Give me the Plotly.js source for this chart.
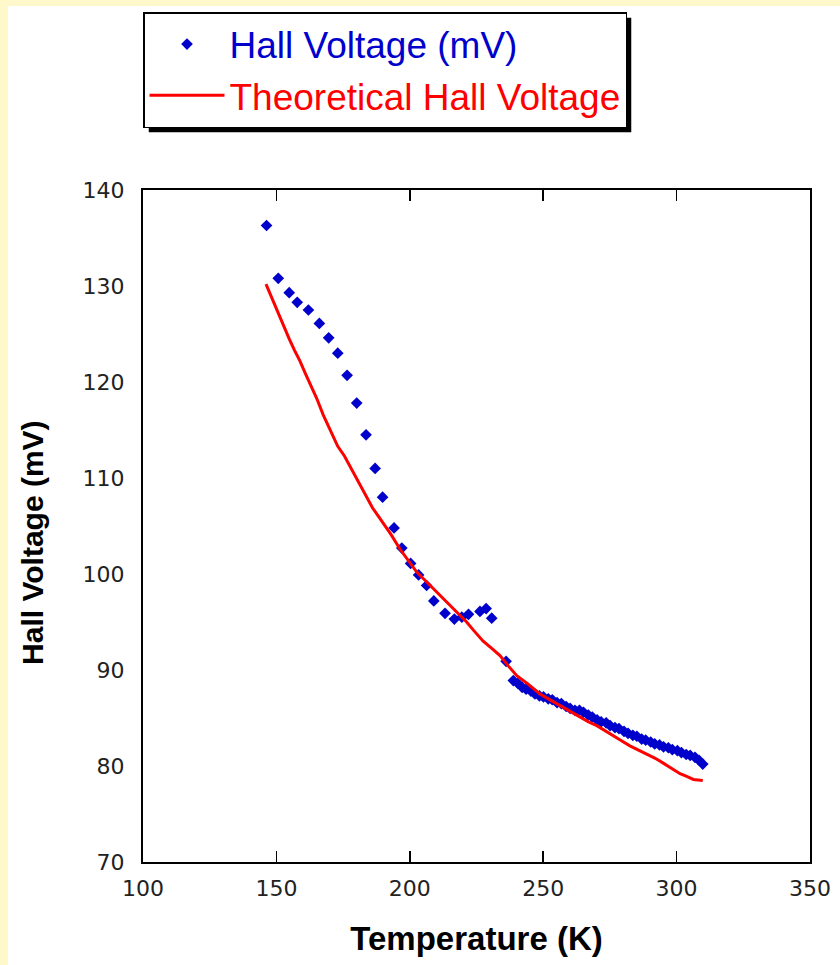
<!DOCTYPE html>
<html>
<head>
<meta charset="utf-8">
<script src="https://cdn.plot.ly/plotly-3.0.1.min.js"></script>
<style>
  html, body { margin: 0; padding: 0; background: #FFF8CB; width: 840px; height: 965px; overflow: hidden; }
  #chart { position: absolute; left: 8px; top: 6px; width: 832px; height: 959px; background: #fff; }
</style>
</head>
<body>
<div id="chart"></div>
<script>
// Measured Hall voltage (mV) vs temperature (K)
const hallT = [146.3, 150.7, 154.8, 157.8, 162.0, 166.1, 169.6, 173.0, 176.5, 180.1,
  183.6, 187.0, 189.8, 194.1, 197.0, 200.3, 203.3, 206.3, 209.0, 213.2,
  216.7, 219.5, 222.0, 226.3, 228.6, 230.7, 236.1, 238.8, 240.5, 242.1,
  243.6, 245.4, 246.9, 248.6, 250.1, 251.9, 253.4, 255.2, 256.8, 258.6,
  260.1, 261.9, 263.6, 265.1, 266.9, 268.4, 270.2, 271.7, 273.6, 275.1,
  276.9, 278.4, 280.3, 281.8, 283.6, 285.1, 286.9, 288.4, 290.3, 291.8,
  293.6, 295.1, 296.9, 298.4, 300.3, 301.8, 303.6, 305.1, 306.9, 308.4, 309.8];
const hallV = [136.3, 130.8, 129.3, 128.3, 127.5, 126.1, 124.6, 123.0, 120.7, 117.8,
  114.5, 111.0, 108.0, 104.8, 102.7, 101.1, 99.9, 98.8, 97.2, 95.9,
  95.3, 95.5, 95.8, 96.1, 96.4, 95.4, 90.9, 88.9, 88.6, 88.2,
  88.0, 87.8, 87.5, 87.3, 87.2, 87.0, 86.9, 86.6, 86.5, 86.2,
  86.0, 85.8, 85.8, 85.6, 85.3, 85.1, 84.8, 84.6, 84.5, 84.2,
  84.0, 83.9, 83.6, 83.4, 83.2, 83.1, 82.8, 82.7, 82.5, 82.3,
  82.2, 82.0, 81.9, 81.7, 81.6, 81.4, 81.2, 81.1, 80.9, 80.6, 80.2];

// Theoretical Hall voltage curve
const theoT = [146.1, 148.5, 150.5, 152.6, 154.8, 156.8, 158.8, 161.0, 163.0, 165.1,
  167.5, 170.1, 173.0, 175.5, 177.6, 180.0, 182.0, 183.8, 186.0, 188.0,
  190.1, 193.0, 196.3, 199.5, 202.6, 205.5, 208.8, 212.0, 215.1, 218.0,
  221.3, 224.0, 227.5, 230.5, 233.8, 237.0, 240.1, 244.0, 248.8, 251.3,
  254.5, 257.5, 260.5, 263.8, 267.0, 270.1, 273.2, 276.3, 279.5, 282.5,
  285.5, 288.8, 292.0, 295.0, 298.0, 301.3, 304.0, 306.3, 309.8];
const theoV = [130.2, 128.6, 127.2, 126.0, 124.5, 123.3, 122.2, 120.8, 119.6, 118.3,
  116.6, 115.0, 113.3, 112.3, 111.2, 109.9, 108.9, 108.0, 106.9, 106.1,
  105.3, 104.1, 102.6, 101.4, 100.2, 99.4, 98.5, 97.6, 96.7, 95.9,
  95.0, 94.1, 93.0, 92.3, 91.5, 90.4, 89.4, 88.6, 87.5, 87.1,
  86.6, 86.1, 85.6, 85.1, 84.6, 84.2, 83.7, 83.2, 82.6, 82.1,
  81.7, 81.3, 80.8, 80.3, 79.8, 79.2, 78.9, 78.6, 78.5];

const xTicks = [100, 150, 200, 250, 300, 350];
const yTicks = [70, 80, 90, 100, 110, 120, 130, 140];

const traces = [
  {
    x: hallT, y: hallV, type: 'scatter', mode: 'markers',
    name: '<span style="color:#0000CC">Hall Voltage (mV)</span>',
    marker: { symbol: 'diamond', size: 9, color: '#0000CC', line: { width: 0 } }
  },
  {
    x: theoT, y: theoV, type: 'scatter', mode: 'lines',
    name: '<span style="color:#FF0000">Theoretical Hall Voltage</span>',
    line: { color: '#FF0000', width: 3 }
  }
];

const M = { l: 135, r: 30, t: 184, b: 103, autoexpand: false };
const W = 832, H = 959;
const PW = W - M.l - M.r, PH = H - M.t - M.b;

const layout = {
  width: W, height: H,
  margin: M,
  paper_bgcolor: '#FFFFFF', plot_bgcolor: '#FFFFFF',
  font: { family: 'Liberation Sans, Arial, sans-serif', color: '#000' },
  showlegend: true,
  legend: {
    x: 0, xanchor: 'left', y: (PH + M.t - 6) / PH, yanchor: 'top',
    bgcolor: '#FFFFFF', bordercolor: '#000', borderwidth: 1.5,
    font: { size: 37, family: 'Liberation Sans, Arial, sans-serif' },
    itemwidth: 75, traceorder: 'normal'
  },
  xaxis: {
    range: [100, 350], tickvals: xTicks, ticktext: xTicks.map(String),
    ticks: 'inside', ticklen: 11, tickwidth: 1.5, tickcolor: '#000',
    showline: true, linecolor: '#000', linewidth: 2, mirror: 'ticks',
    showgrid: false, zeroline: false,
    tickfont: { size: 22, color: '#222', family: 'DejaVu Sans, sans-serif' }, ticklabelstandoff: 6,
    title: { text: 'Temperature (K)', font: { size: 33, weight: 'bold', color: '#000' }, standoff: 26 }
  },
  yaxis: {
    range: [70, 140], tickvals: yTicks, ticktext: yTicks.map(String),
    ticks: '', showline: true, linecolor: '#000', linewidth: 2, mirror: true,
    showgrid: false, zeroline: false,
    tickfont: { size: 22, color: '#222', family: 'DejaVu Sans, sans-serif' }, ticklabelstandoff: 12,
    title: { text: 'Hall Voltage (mV)&nbsp;&nbsp;&nbsp;&nbsp;', font: { size: 30, weight: 'bold', color: '#000' }, standoff: 30 }
  },
  shapes: []
};

Plotly.newPlot('chart', traces, layout, { displayModeBar: false, staticPlot: true }).then(function (gd) {
  // drop shadow behind the legend box, placed from the rendered legend size
  const bg = gd.querySelector('.legend .bg');
  if (!bg) return;
  const r = bg.getBoundingClientRect();
  const c = gd.getBoundingClientRect();
  const left = r.left - c.left, top = r.top - c.top;
  const off = 5;
  const fl = gd._fullLayout;
  const ml = fl._size.l, mt = fl._size.t, pw = fl._size.w, ph = fl._size.h;
  const px2x = function (p) { return (p - ml) / pw; };
  const py2y = function (p) { return (mt + ph - p) / ph; };
  return Plotly.relayout(gd, {
    shapes: [{
      type: 'rect', xref: 'paper', yref: 'paper', layer: 'below',
      x0: px2x(left + off), x1: px2x(left + r.width + off),
      y0: py2y(top + r.height + off), y1: py2y(top + off),
      fillcolor: '#000', line: { width: 0 }
    }]
  });
});
</script>
</body>
</html>
